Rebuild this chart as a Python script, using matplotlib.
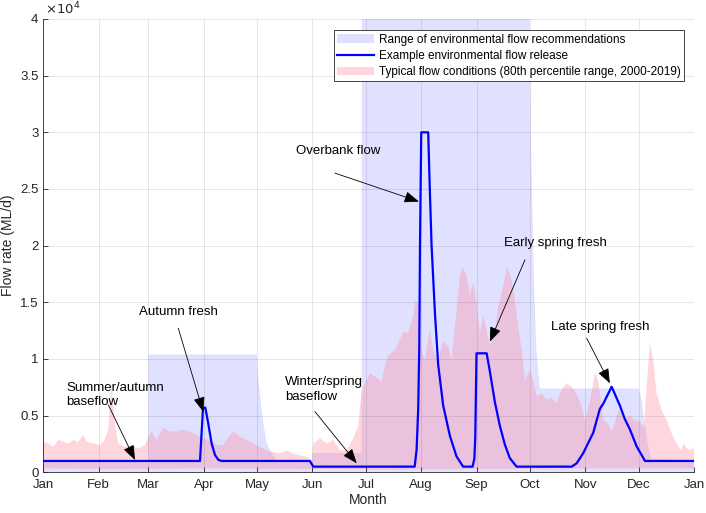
import numpy as np
import matplotlib
matplotlib.use("Agg")
import matplotlib.pyplot as plt
from matplotlib.patches import Patch
from matplotlib.lines import Line2D
from matplotlib.ticker import FuncFormatter

plt.rcParams['font.family'] = ['Liberation Sans', 'DejaVu Sans']

# ---------------- data ----------------
month_ticks = [0, 31, 59, 90, 120, 151, 181, 212, 243, 273, 304, 334, 365]
month_labels = ['Jan', 'Feb', 'Mar', 'Apr', 'May', 'Jun', 'Jul', 'Aug',
                'Sep', 'Oct', 'Nov', 'Dec', 'Jan']
y_ticks = [0, 5000, 10000, 15000, 20000, 25000, 30000, 35000, 40000]

# Range of environmental flow recommendations (upper envelope, lower = 0)
rec_days = [0, 58.9, 59, 119.7, 120.6, 121.9, 123.4, 125.3, 127.1, 131, 151,
            151.1, 178.5, 178.6, 272.5, 273.5, 275, 276.5, 278.5, 334, 335.5,
            337.5, 339, 341, 365]
rec_high = [1000, 1000, 10400, 10400, 8440, 6380, 4330, 2560, 1970, 1000, 1000,
            1700, 1700, 45000, 45000, 30000, 18000, 11000, 7400, 7400, 6500,
            4200, 2500, 1200, 1000]
rec_low_days = [0, 365]
rec_low = [0, 0]

# Example environmental flow release
rel_days = [0, 87.9, 89.6, 90.9, 92.5, 94.4, 96.3, 98.2, 100, 149.5, 151.5,
            208.3, 209.4, 210.3, 210.9, 211.3, 212.0, 215.9, 216.8, 217.8,
            219.7, 221.5, 224.3, 228.1, 231.8, 235.5, 240.8, 241.8, 242.3,
            243.0, 248.7, 250.5, 253.3, 256.1, 258.9, 261.7, 265.5, 296.4,
            299.2, 302.9, 308.5, 312.2, 314.1, 318.8, 323.4, 326.2, 329,
            332.8, 337.5, 365]
rel_flow = [1000, 1000, 5700, 5700, 4330, 2560, 1530, 1100, 1000, 1000, 500,
            500, 2000, 5600, 11000, 20000, 30000, 30000, 25000, 20000,
            14000, 9500, 5900, 3200, 1400, 500, 500, 1200, 3000,
            10500, 10500, 8900, 6200, 4100, 2450, 1250, 500, 500,
            800, 1700, 3500, 5600, 6050, 7550, 5900, 4700, 3800,
            2300, 1000, 1000]

# Typical flow conditions (80th percentile range, 2000-2019)
typ_days = [0, 2.8, 5.6, 8.4, 11.2, 14, 16.8, 19.6, 22.4, 24.3, 28, 31.8, 33.7,
            36.5, 37.5, 38.4, 39.3, 40.2, 42, 45.8, 49.6, 53.3, 57, 58.9, 60.8,
            63.6, 67.3, 71, 74.8, 78.5, 82.3, 86, 89, 93.5, 97.3, 101, 104.7,
            106.6, 110.3, 114, 117.8, 121.5, 125.3, 129, 132.7, 136.5, 140.2,
            144, 147.7, 150.5, 151.4, 155.2, 158.9, 162.6, 166.4, 170.2, 173.9,
            175.8, 176.7, 177.6, 178.6, 179.5, 181.4, 183.2, 186, 189.8, 191.6,
            193.5, 197.2, 200, 201.9, 204.7, 207.5, 208.5, 210.4, 212, 214,
            216.9, 218.7, 221.5, 224.3, 227.1, 229, 231.5, 233.7, 235.2, 237.4,
            239.3, 241.2, 243.1, 244.9, 246.8, 248.7, 250.5, 253.3, 255.2, 258,
            260.2, 262.7, 264.5, 266.4, 268.3, 270.2, 273, 274.8, 276.7, 279.5,
            282.3, 285.1, 287.9, 290.7, 293.5, 296.4, 299.2, 302, 303.8, 306.6,
            309.4, 311.3, 314.1, 316.9, 318.8, 321.6, 323.4, 326.2, 329, 331.8,
            334.6, 337, 338.5, 340.3, 342.1, 344, 346.8, 349.6, 352.4, 355.2,
            358, 359, 360.8, 362.7, 365]
typ_high = [2700, 2550, 2250, 2850, 2700, 2550, 2850, 2700, 3300, 2700, 2550,
            2400, 2700, 3750, 6400, 7850, 5900, 4300, 2550, 2250, 2400, 2100,
            2400, 3150, 3600, 2850, 3950, 3600, 3600, 3750, 3600, 3300, 3050,
            2850, 2400, 2400, 3300, 3600, 3150, 2850, 2550, 2250, 1950, 1800,
            1650, 1950, 1650, 1500, 1350, 1100, 2550, 3000, 2550, 2850, 1950,
            1950, 3000, 3750, 4000, 5800, 7000, 7550, 8150, 8750, 8450, 8000,
            9350, 10300, 10800, 11700, 12400, 12300, 13750, 15000, 15000, 10800,
            9900, 12650, 10800, 9900, 11600, 11100, 9900, 13750, 17300, 18150,
            17300, 15800, 16700, 14900, 12300, 13850, 12550, 11100, 12300,
            14650, 16400, 18150, 17000, 15200, 12850, 10800, 8150, 9050, 8150,
            6700, 7000, 6400, 6550, 6100, 7250, 7850, 7550, 6900, 5800, 4600,
            6200, 8750, 8150, 4600, 4300, 3600, 4900, 5650, 4600, 5050, 4600,
            4500, 3950, 7850, 11400, 9900, 7000, 5500, 4600, 3450, 2550, 1950,
            2550, 2150, 1950, 2150]
typ_low_days = [0, 40, 90, 150, 200, 260, 320, 365]
typ_low = [350, 300, 350, 300, 250, 300, 350, 350]

annotations = [
    # label, text position (day, flow), ha, arrow tail, arrow head
    ('Summer/autumn\nbaseflow', (12.7, 6830), 'left', (36.5, 5940), (51.4, 1090)),
    ('Autumn fresh', (75.7, 14130), 'center', (75.7, 12715), (89.7, 5350)),
    ('Winter/spring\nbaseflow', (135.5, 7310), 'left', (152.4, 5350), (175.8, 795)),
    ('Overbank flow', (165.5, 28310), 'center', (163.6, 26400), (210.7, 23890)),
    ('Early spring fresh', (287.4, 20220), 'center', (270.2, 18750), (250.5, 11530)),
    ('Late spring fresh', (312.2, 12860), 'center', (304.8, 11830), (317.8, 7860)),
]

legend_labels = ['Range of environmental flow recommendations',
                 'Example environmental flow release',
                 'Typical flow conditions (80th percentile range, 2000-2019)']

# ---------------- styling ----------------
rec_color = (0.0, 0.0, 1.0, 0.12)
typ_color = (1.0, 0.52, 0.61, 0.33)
line_color = (0.0, 0.0, 1.0)
axis_color = '0.15'

fig = plt.figure(figsize=(7.06, 5.13), dpi=100)
ax = fig.add_axes([43.3 / 706, 1 - 472.3 / 513, (694 - 43.3) / 706, (472.3 - 19) / 513])

ax.fill(np.concatenate([rec_days, rec_low_days[::-1]]),
        np.concatenate([rec_high, rec_low[::-1]]),
        facecolor=rec_color, edgecolor='none', zorder=1)
ax.fill(np.concatenate([typ_days, typ_low_days[::-1]]),
        np.concatenate([typ_high, typ_low[::-1]]),
        facecolor=typ_color, edgecolor='none', zorder=1.1)
ax.plot(rel_days, rel_flow, color=line_color, lw=1.6, zorder=3,
        solid_joinstyle='round')

ax.set_xlim(0, 365)
ax.set_ylim(0, 40000)
ax.set_xticks(month_ticks)
ax.set_xticklabels(month_labels)
ax.set_yticks(y_ticks)
ax.yaxis.set_major_formatter(FuncFormatter(lambda v, p: f'{v / 1e4:g}'))
ax.text(0.003, 1.004, r'$\times10^{4}$', transform=ax.transAxes,
        ha='left', va='bottom', fontsize=9.5, color=axis_color)

ax.set_axisbelow(False)
ax.grid(True, color=(0.15, 0.15, 0.15), alpha=0.13, lw=0.6)
for side in ['top', 'right']:
    ax.spines[side].set_visible(False)
for side in ['left', 'bottom']:
    ax.spines[side].set_color(axis_color)
    ax.spines[side].set_linewidth(0.6)
ax.tick_params(direction='in', length=3.5, width=0.6, colors=axis_color,
               labelsize=9.5, labelcolor=axis_color)
ax.tick_params(axis='x', pad=5)

ax.set_xlabel('Month', fontsize=10, color=axis_color, labelpad=1)
ax.set_ylabel('Flow rate (ML/d)', fontsize=10, color=axis_color)
ax.yaxis.set_label_coords(-0.044, 0.5)

for label, pos, ha, tail, head in annotations:
    ax.text(pos[0], pos[1], label, ha=ha, va='center', fontsize=9.5,
            color='black', linespacing=1.25, zorder=5)
    ax.annotate('', xy=head, xytext=tail,
                arrowprops=dict(arrowstyle='-|>,head_length=0.9,head_width=0.35',
                                color='black', lw=0.6, shrinkA=0, shrinkB=0),
                zorder=5)

handles = [Patch(facecolor=rec_color, edgecolor='none'),
           Line2D([0], [0], color=line_color, lw=1.6),
           Patch(facecolor=typ_color, edgecolor='none')]
leg = ax.legend(handles, legend_labels, loc='upper right',
                bbox_to_anchor=(684 / 706, 1 - 30 / 513),
                bbox_transform=fig.transFigure, borderaxespad=0,
                fontsize=8.5, handlelength=3.1, handletextpad=0.4,
                borderpad=0.3, labelspacing=0.35, fancybox=False,
                framealpha=1, edgecolor=axis_color)
leg.get_frame().set_linewidth(0.6)
leg.set_zorder(6)

fig.savefig('out.png', dpi=100)
